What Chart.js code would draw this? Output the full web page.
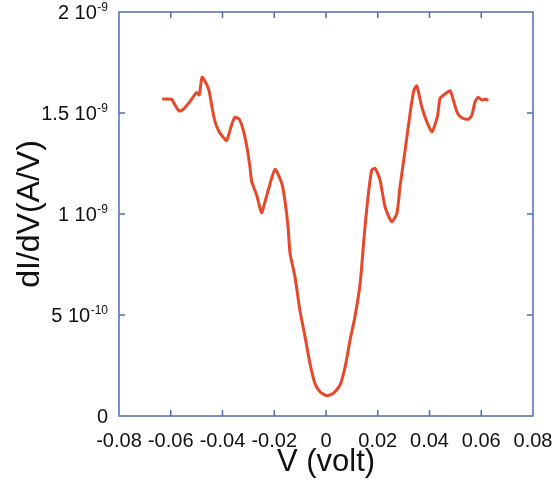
<!DOCTYPE html>
<html>
<head>
<meta charset="utf-8">
<script src="https://cdn.jsdelivr.net/npm/chart.js@4.4.1/dist/chart.umd.min.js"></script>
<style>
html,body{margin:0;padding:0;background:#fff;}
#wrap{width:555px;height:481px;position:relative;}
</style>
</head>
<body>
<div id="wrap"><canvas id="c" width="555" height="481"></canvas></div>
<script>
// Bias voltage (V)
const voltage = [-0.0633,-0.0597,-0.0588,-0.0568,-0.0552,-0.0526,-0.0500,-0.0490,-0.0479,-0.0464,-0.0451,-0.0441,-0.0429,-0.0413,-0.0398,-0.0384,-0.0365,-0.0352,-0.0335,-0.0320,-0.0307,-0.0294,-0.0287,-0.0268,-0.0249,-0.0236,-0.0223,-0.0197,-0.0171,-0.0159,-0.0146,-0.0139,-0.0120,-0.0101,-0.0081,-0.0062,-0.0043,-0.0023,0.0003,0.0028,0.0054,0.0074,0.0093,0.0112,0.0132,0.0149,0.0164,0.0177,0.0190,0.0209,0.0228,0.0254,0.0274,0.0286,0.0306,0.0325,0.0340,0.0351,0.0370,0.0392,0.0410,0.0431,0.0441,0.0460,0.0480,0.0492,0.0508,0.0526,0.0550,0.0564,0.0576,0.0589,0.0602,0.0615,0.0628];
// dI/dV in units of 1e-9 A/V
const dIdV = [1.569,1.568,1.550,1.510,1.518,1.556,1.602,1.589,1.677,1.649,1.605,1.531,1.457,1.407,1.381,1.363,1.441,1.479,1.469,1.416,1.342,1.234,1.160,1.094,1.006,1.059,1.119,1.221,1.152,1.069,0.929,0.805,0.690,0.525,0.393,0.261,0.162,0.120,0.100,0.112,0.153,0.244,0.376,0.492,0.657,0.911,1.102,1.218,1.226,1.168,1.036,0.962,1.003,1.135,1.317,1.499,1.614,1.634,1.531,1.449,1.407,1.485,1.573,1.594,1.610,1.564,1.499,1.475,1.469,1.490,1.556,1.578,1.564,1.568,1.564];
const xTickValues = [-0.08,-0.06,-0.04,-0.02,0,0.02,0.04,0.06,0.08];
const xTickLabels = ['-0.08','-0.06','-0.04','-0.02','0','0.02','0.04','0.06','0.08'];
const yTickValues = [0,0.5,1,1.5,2];
const yTickMantissa = ['0','5 10','1 10','1.5 10','2 10'];
const yTickExponent = ['','-10','-9','-9','-9'];

const points = voltage.map((v,i)=>({x:v,y:dIdV[i]}));
const AXIS = '#4f6eb0';
const FONT = 'Liberation Sans, Arial, sans-serif';

const framePlugin = {
  id:'frame',
  afterDatasetsDraw(chart){
    const {ctx, chartArea:a, scales} = chart;
    ctx.save();
    ctx.strokeStyle = AXIS;
    ctx.lineWidth = 1.5;
    ctx.strokeRect(a.left, a.top, a.right-a.left, a.bottom-a.top);
    const L = 6;
    ctx.beginPath();
    xTickValues.forEach(v=>{
      const px = scales.x.getPixelForValue(v);
      if (px <= a.left+1 || px >= a.right-1) return;
      ctx.moveTo(px, a.bottom); ctx.lineTo(px, a.bottom-L);
      ctx.moveTo(px, a.top); ctx.lineTo(px, a.top+L);
    });
    yTickValues.forEach(v=>{
      const py = scales.y.getPixelForValue(v);
      if (py <= a.top+1 || py >= a.bottom-1) return;
      ctx.moveTo(a.left, py); ctx.lineTo(a.left+L, py);
      ctx.moveTo(a.right, py); ctx.lineTo(a.right-L, py);
    });
    ctx.stroke();
    // y tick labels with superscript exponents
    ctx.fillStyle = '#111';
    ctx.textBaseline = 'alphabetic';
    yTickValues.forEach((v,i)=>{
      const py = scales.y.getPixelForValue(v);
      const base = py + 7;
      let xr = a.left - 11;
      const exp = yTickExponent[i];
      if (exp){
        ctx.font = '12px ' + FONT;
        ctx.textAlign = 'right';
        ctx.fillText(exp, xr, base - 8);
        xr -= ctx.measureText(exp).width + 0.5;
      }
      ctx.font = '20px ' + FONT;
      ctx.textAlign = 'right';
      ctx.fillText(yTickMantissa[i], xr, base);
    });
    ctx.restore();
  }
};

new Chart(document.getElementById('c'), {
  type:'line',
  data:{datasets:[{data:points, borderColor:'#e8482a', borderWidth:3, pointRadius:0, tension:0.2, fill:false}]},
  options:{
    responsive:false, animation:false,
    layout:{padding:{top:12,right:22,left:0,bottom:0}},
    plugins:{legend:{display:false}, tooltip:{enabled:false}},
    scales:{
      x:{
        type:'linear', min:-0.08, max:0.08,
        afterBuildTicks(s){ s.ticks = xTickValues.map(v=>({value:v})); },
        afterFit(s){ s.height = 65; s.paddingLeft = 0; s.paddingRight = 0; },
        grid:{display:false, drawTicks:false}, border:{display:false},
        ticks:{color:'#111', font:{family:FONT, size:20}, padding:13, maxRotation:0, autoSkip:false,
          callback:(v,i)=>xTickLabels[i]},
        title:{display:true, text:'V (volt)', color:'#111', font:{family:FONT, size:31}, padding:{top:0,bottom:0}}
      },
      y:{
        type:'linear', min:0, max:2,
        afterBuildTicks(s){ s.ticks = yTickValues.map(v=>({value:v})); },
        afterFit(s){ s.width = 119; s.paddingTop = 0; s.paddingBottom = 0; },
        grid:{display:false, drawTicks:false}, border:{display:false},
        ticks:{display:false},
        title:{display:true, text:'dI/dV(A/V)', color:'#111', font:{family:FONT, size:32}, padding:{top:11,bottom:0}}
      }
    }
  },
  plugins:[framePlugin]
});
</script>
</body>
</html>
